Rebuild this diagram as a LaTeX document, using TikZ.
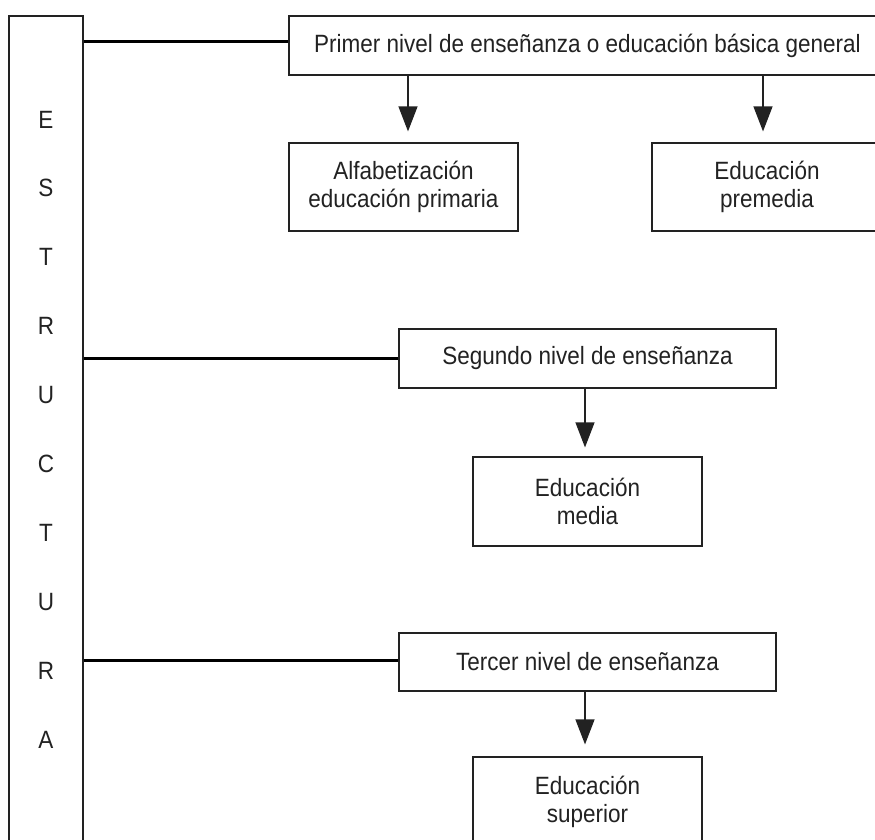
\documentclass[tikz,border=0pt]{standalone}
\usepackage{fontspec}
\setmainfont{Liberation Sans}[FakeStretch=0.9]
\usetikzlibrary{arrows.meta}
\definecolor{ink}{HTML}{222222}
\tikzset{
  box/.style={draw=ink, line width=1.2pt, rectangle, inner sep=0pt, align=center,
    text=ink, font=\fontsize{25}{28}\selectfont},
  letter/.style={text=ink, font=\fontsize{25}{28}\selectfont, inner sep=0pt},
  hline/.style={draw=black, line width=3pt},
  arr/.style={draw=ink, line width=1.2pt, -{Triangle[length=25pt,width=19pt]}}
}
\begin{document}
\begin{tikzpicture}[x=1pt,y=-1pt]
\useasboundingbox (0,0) rectangle (875,839);
\fill[white] (0,0) rectangle (875,839);
\clip (0,0) rectangle (875,839);
% left column
\node[box, minimum width=74pt, minimum height=844pt] (estr) at (46,438) {};
\foreach \ch/\yy [count=\i] in {E/120,S/188,T/257,R/326,U/395,C/464,T/533,U/602,R/671,A/740}
  \node[letter] (l\i) at (46,\yy) {\ch};
% boxes
\node[box, minimum width=597pt, minimum height=59pt] (b1) at (587.5,45.5)
  {Primer nivel de enseñanza o educación básica general};
\node[box, minimum width=229pt, minimum height=88pt] (a1) at (403.5,187)
  {Alfabetización\\educación primaria};
\node[box, minimum width=230pt, minimum height=88pt] (a2) at (767,187)
  {Educación\\premedia};
\node[box, minimum width=377pt, minimum height=59pt] (b2) at (587.5,358.5)
  {Segundo nivel de enseñanza};
\node[box, minimum width=229pt, minimum height=89pt] (m) at (587.5,501.5)
  {Educación\\media};
\node[box, minimum width=377pt, minimum height=58pt] (b3) at (587.5,662)
  {Tercer nivel de enseñanza};
\node[box, minimum width=229pt, minimum height=89pt] (s) at (587.5,801.5)
  {Educación\\superior};
% horizontal connectors
\coordinate (p1) at ([yshift=4.5pt]b1.west);
\coordinate (p2) at ([yshift=0.5pt]b2.west);
\coordinate (p3) at ([yshift=2pt]b3.west);
\draw[hline] (p1 -| estr.east) -- (p1);
\draw[hline] (p2 -| estr.east) -- (p2);
\draw[hline] (p3 -| estr.east) -- (p3);
% arrows
\coordinate (t1) at ([xshift=4.5pt,yshift=11pt]a1.north);
\coordinate (t2) at ([xshift=-4pt,yshift=11pt]a2.north);
\coordinate (t3) at ([xshift=-2.5pt,yshift=9pt]m.north);
\coordinate (t4) at ([xshift=-2.5pt,yshift=12pt]s.north);
\draw[arr] (t1 |- b1.south) -- (t1);
\draw[arr] (t2 |- b1.south) -- (t2);
\draw[arr] (t3 |- b2.south) -- (t3);
\draw[arr] (t4 |- b3.south) -- (t4);
\end{tikzpicture}
\end{document}
